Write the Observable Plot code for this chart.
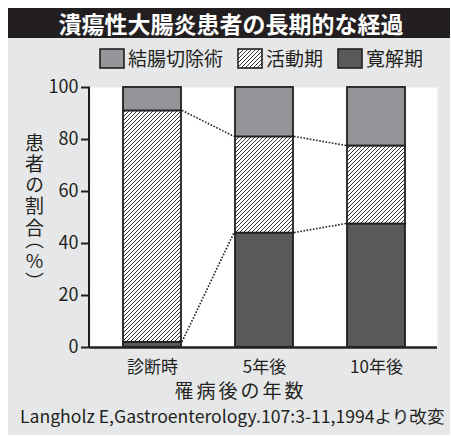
<!DOCTYPE html>
<html lang="ja">
<head>
<meta charset="utf-8">
<script src="https://cdn.jsdelivr.net/npm/d3@7"></script>
<script src="https://cdn.jsdelivr.net/npm/@observablehq/plot@0.6"></script>
<style>
  html, body { margin: 0; padding: 0; overflow: hidden; background: #fff; }
  #fig { position: relative; width: 451px; height: 436px; font-family: "Noto Sans CJK JP", sans-serif; color: #231f20; }
  #bg { position: absolute; left: 8px; top: 8px; width: 442px; height: 427px; background: #e6e7e8; }
  #title { position: absolute; left: 8px; top: 8px; width: 442px; height: 30px; line-height: 30px; background: #231f20; color: #fff;
           font-weight: bold; font-size: 23px; text-align: center; padding-left: 4px; box-sizing: border-box; white-space: nowrap; }
  #legend { position: absolute; left: 99px; top: 47px; height: 22px; display: flex; align-items: center; gap: 14px; font-size: 19px; white-space: nowrap; }
  #legend .item { display: flex; align-items: center; gap: 3px; line-height: 22px; }
  #legend svg { display: block; }
  #chart { position: absolute; left: 0; top: 0; }
  #ylabel { position: absolute; left: 25px; top: 133px; writing-mode: vertical-rl; text-orientation: upright; font-size: 19px; letter-spacing: 2.5px;
            line-height: 19px; white-space: nowrap; font-feature-settings: "vpal" 1; }
  #xlabel { position: absolute; left: 139px; top: 380px; width: 200px; height: 20px; text-align: center; font-size: 19px; letter-spacing: 3px; padding-left: 3px; box-sizing: border-box; line-height: 20px; white-space: nowrap; }
  #caption { position: absolute; left: 20px; top: 406px; height: 20px; font-size: 17.6px; line-height: 20px; white-space: nowrap; }
</style>
</head>
<body>
<div id="fig">
  <div id="bg"></div>
  <div id="title">潰瘍性大腸炎患者の長期的な経過</div>
  <div id="chart"></div>
  <div id="legend"></div>
  <div id="ylabel">患者の割合（%）</div>
  <div id="xlabel">罹病後の年数</div>
  <div id="caption">Langholz E,Gastroenterology.107:3-11,1994より改変</div>
</div>
<script>
// Time since onset
const periods = ["診断時", "5年後", "10年後"];
// Disease states, stacked from the bottom up
const categories = ["寛解期", "活動期", "結腸切除術"];
// Legend reads top-of-stack first
const legendOrder = ["結腸切除術", "活動期", "寛解期"];
// Share of patients (%) in each state
const remission = [2, 44, 47.5];
const active = [89, 37, 30];
const colectomy = [9, 19, 22.5];
const yTicks = [0, 20, 40, 60, 80, 100];

const ink = "#231f20";
const fills = ["#58595b", "url(#hatch)", "#939598"];

const series = [remission, active, colectomy];
const rows = [];
categories.forEach((category, c) => {
  periods.forEach((period, i) => rows.push({period, category, value: series[c][i]}));
});

// Dotted guides joining the boundaries of the active-phase segment between neighbouring bars,
// plus the hatch pattern and the vertical axis line.
function guides(index, scales, values, dims) {
  const {x, y} = scales;
  const bw = x.bandwidth();
  const g = d3.create("svg:g");
  const pat = g.append("defs").append("pattern")
    .attr("id", "hatch").attr("patternUnits", "userSpaceOnUse")
    .attr("width", 4).attr("height", 4);
  pat.append("rect").attr("width", 4).attr("height", 4).attr("fill", "#fff");
  pat.append("path").attr("d", "M-1,1 l2,-2 M0,4 l4,-4 M3,5 l2,-2")
    .attr("stroke", ink).attr("stroke-width", 0.9);

  const lines = g.append("g").attr("fill", "none").attr("stroke", ink)
    .attr("stroke-width", 1.6).attr("stroke-dasharray", "1.6,1.6");
  for (let i = 0; i < periods.length - 1; i++) {
    const lower = [remission[i], remission[i + 1]];
    const upper = [remission[i] + active[i], remission[i + 1] + active[i + 1]];
    for (const [a, b] of [lower, upper]) {
      lines.append("line")
        .attr("x1", x(periods[i]) + bw + 1).attr("y1", y(a))
        .attr("x2", x(periods[i + 1]) - 1).attr("y2", y(b));
    }
  }
  g.append("line")
    .attr("x1", dims.marginLeft - 1).attr("x2", dims.marginLeft - 1)
    .attr("y1", y(100)).attr("y2", y(0) + 1)
    .attr("stroke", ink).attr("stroke-width", 2);
  return g.node();
}

const chart = Plot.plot({
  width: 451,
  height: 436,
  marginLeft: 90,
  marginRight: 14,
  marginTop: 87,
  marginBottom: 89,
  style: {background: "transparent", fontFamily: "\"Noto Sans CJK JP\", sans-serif", color: ink},
  x: {domain: periods, paddingInner: 0.485, paddingOuter: 0.28},
  y: {domain: [0, 100]},
  color: {domain: categories, range: fills},
  marks: [
    Plot.frame({fill: "#fff", stroke: "none"}),
    Plot.barY(rows, {x: "period", y: "value", fill: "category", stroke: ink, strokeWidth: 1.8}),
    guides,
    Plot.ruleY([0], {stroke: ink, strokeWidth: 2.5}),
    Plot.axisY({ticks: yTicks, tickSize: 9, tickPadding: 3, strokeWidth: 2, fontSize: 18, label: null, tickFormat: d => String(d)}),
    Plot.axisX({tickSize: 0, tickPadding: 13, fontSize: 17, label: null})
  ]
});
document.getElementById("chart").appendChild(chart);

// Legend
const legend = d3.select("#legend");
for (const name of legendOrder) {
  const item = legend.append("div").attr("class", "item");
  const sw = item.append("svg").attr("width", 26).attr("height", 21);
  sw.append("rect").attr("x", 1).attr("y", 1).attr("width", 24).attr("height", 19)
    .attr("fill", fills[categories.indexOf(name)]).attr("stroke", ink).attr("stroke-width", 1.6);
  item.append("span").text(name);
}
</script>
</body>
</html>
